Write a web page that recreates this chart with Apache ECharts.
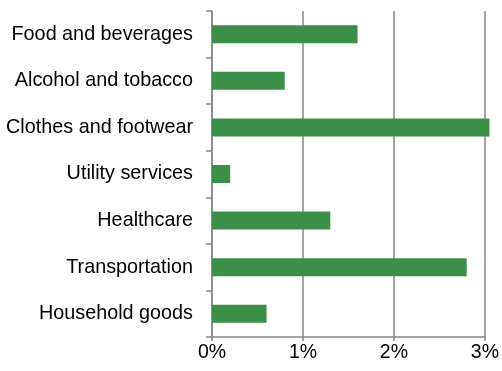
<!DOCTYPE html>
<html><head><meta charset="utf-8">
<script src="https://cdn.jsdelivr.net/npm/echarts@6/dist/echarts.min.js"></script>
<style>html,body{margin:0;padding:0;background:#fff}#c{width:502px;height:371px}</style>
</head><body><div id="c"></div>
<script>
const categories = ["Food and beverages","Alcohol and tobacco","Clothes and footwear","Utility services","Healthcare","Transportation","Household goods"];
const values = [1.6, 0.8, 3.05, 0.2, 1.3, 2.8, 0.6];
const xTicks = [0, 1, 2, 3];

const chart = echarts.init(document.getElementById('c'), null, {renderer:'canvas'});
chart.setOption({
  animation:false,
  grid:{left:212, right:16, top:11, bottom:34, containLabel:false},
  xAxis:{
    type:'value', min:xTicks[0], max:xTicks[xTicks.length-1], interval:1,
    axisLine:{show:true, lineStyle:{color:'#868686', width:1.5}},
    axisTick:{show:true, length:4, lineStyle:{color:'#868686', width:1.5}},
    splitLine:{show:true, lineStyle:{color:'#868686', width:1.5}},
    axisLabel:{formatter:v=>v+'%', color:'#000', fontSize:19.5, fontFamily:'Liberation Sans, Arial, sans-serif', margin:6}
  },
  yAxis:{
    type:'category', data:categories, inverse:true,
    axisLine:{show:true, lineStyle:{color:'#868686', width:1.5}},
    axisTick:{show:true, length:6, lineStyle:{color:'#868686', width:1.5}},
    axisLabel:{color:'#000', fontSize:19.8, fontFamily:'Liberation Sans, Arial, sans-serif', margin:19}
  },
  series:[{
    type:'bar', data:values, barWidth:18, clip:false,
    itemStyle:{color:'#3C8F48'}
  }]
});
</script></body></html>
